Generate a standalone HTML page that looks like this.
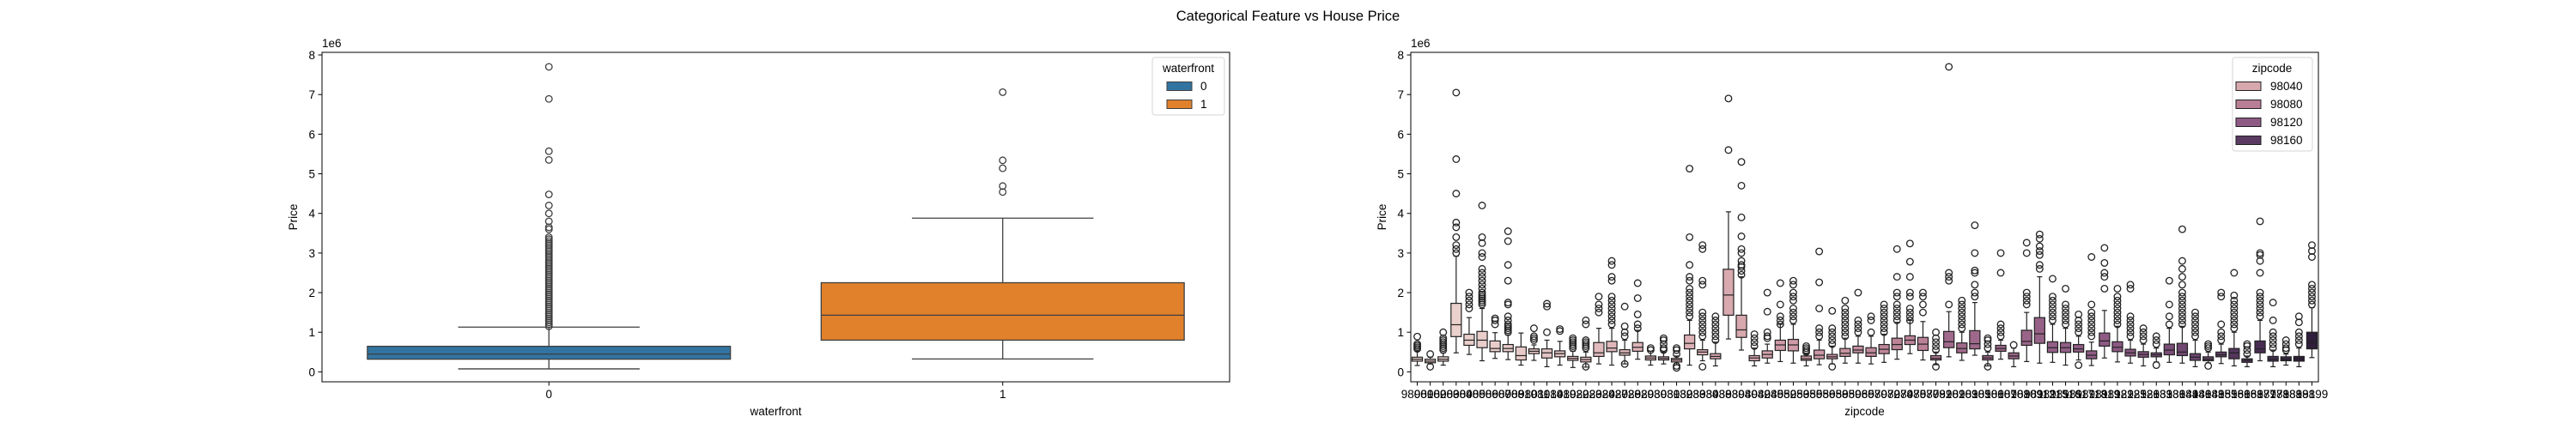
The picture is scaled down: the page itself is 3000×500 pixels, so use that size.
<!DOCTYPE html>
<html><head><meta charset="utf-8">
<style>
html,body{margin:0;padding:0;background:#fff;}
svg{display:block;font-family:"Liberation Sans","DejaVu Sans",sans-serif;}
</style></head>
<body>
<svg id="fig" width="3000" height="500" viewBox="0 0 3000 500" xmlns="http://www.w3.org/2000/svg">
<rect x="0" y="0" width="3000" height="500" fill="#fff"/>
<text x="1500" y="24" font-size="16.5" text-anchor="middle" fill="#000">Categorical Feature vs House Price</text>
<g id="left"></g>
<g id="right"></g>
</svg>
<script>
// ---- left chart data (waterfront), values in millions ----
const wfCats = ["0", "1"];
const wfQ1 = [0.32, 0.80];
const wfMed = [0.45, 1.43];
const wfQ3 = [0.645, 2.25];
const wfLo = [0.075, 0.325];
const wfHi = [1.13, 3.88];
const wfOut = [
  [1.15,1.2,1.25,1.3,1.35,1.4,1.45,1.5,1.55,1.6,1.65,1.7,1.75,1.8,1.85,1.9,1.95,2.0,2.05,2.1,2.15,2.2,2.25,2.3,2.35,2.4,2.45,2.5,2.55,2.6,2.65,2.7,2.75,2.8,2.85,2.9,2.95,3.0,3.05,3.1,3.15,3.2,3.25,3.3,3.35,3.4,3.6,3.65,3.8,4.0,4.2,4.48,5.35,5.57,6.89,7.7],
  [4.54,4.69,5.14,5.34,7.06]
];
const wfColors = ["#3274a1", "#e1812c"];
const yTicks = [0,1,2,3,4,5,6,7,8];

// ---- right chart data (zipcode), values in millions ----
const zips = [98001,98002,98003,98004,98005,98006,98007,98008,98010,98011,98014,98019,98022,98023,98024,98027,98028,98029,98030,98031,98032,98033,98034,98038,98039,98040,98042,98045,98052,98053,98055,98056,98058,98059,98065,98070,98072,98074,98075,98077,98092,98102,98103,98105,98106,98107,98108,98109,98112,98115,98116,98117,98118,98119,98122,98125,98126,98133,98136,98144,98146,98148,98155,98166,98168,98177,98178,98188,98198,98199];
const zQ1 = [.27,.23,.27,.89,.67,.61,.51,.51,.30,.46,.35,.38,.29,.25,.39,.51,.42,.52,.30,.30,.25,.58,.43,.33,1.43,.87,.28,.35,.54,.53,.29,.33,.33,.39,.48,.39,.46,.56,.69,.54,.30,.61,.48,.58,.30,.52,.33,.67,.72,.49,.49,.50,.33,.65,.51,.40,.37,.38,.43,.41,.29,.28,.38,.33,.24,.48,.27,.28,.27,.58];
const zMed = [.32,.27,.32,1.19,.80,.80,.59,.59,.41,.52,.48,.46,.34,.31,.48,.60,.48,.62,.35,.34,.30,.72,.50,.39,1.94,1.06,.35,.44,.68,.68,.33,.42,.38,.47,.55,.48,.57,.69,.80,.70,.34,.76,.59,.71,.35,.59,.40,.77,.96,.61,.61,.58,.42,.78,.62,.48,.44,.43,.55,.50,.37,.32,.43,.48,.29,.58,.32,.32,.33,.74];
const zQ3 = [.37,.32,.38,1.73,.95,1.02,.78,.69,.63,.58,.58,.53,.39,.37,.74,.77,.56,.74,.40,.38,.34,.93,.56,.46,2.59,1.43,.41,.53,.80,.82,.40,.55,.44,.59,.65,.61,.69,.85,.91,.87,.41,1.02,.73,1.04,.41,.67,.48,1.05,1.37,.76,.74,.69,.53,.98,.76,.57,.51,.48,.70,.72,.46,.38,.50,.59,.33,.78,.39,.38,.39,1.00];
const zLo = [.16,.20,.17,.48,.44,.28,.34,.31,.17,.29,.13,.17,.11,.12,.20,.17,.20,.32,.17,.20,.18,.17,.28,.15,.83,.55,.15,.22,.26,.22,.15,.18,.20,.22,.22,.20,.24,.32,.46,.30,.18,.38,.29,.42,.15,.32,.13,.26,.22,.24,.17,.30,.16,.35,.25,.22,.15,.25,.24,.22,.13,.23,.21,.15,.13,.28,.13,.17,.13,.36];
const zHi = [.52,.37,.48,2.92,1.37,1.60,.99,.93,.98,.68,.80,.77,.52,.50,1.10,1.10,.80,1.05,.52,.50,.40,1.30,.80,.75,4.04,2.40,.60,.70,1.20,1.20,.45,.80,.65,.85,.90,.90,.95,1.25,1.30,1.27,.50,1.52,1.00,1.75,.50,.80,.60,1.50,2.40,1.20,1.10,.90,.75,1.55,1.15,.80,.70,.60,1.10,1.15,.80,.50,.70,1.00,.40,1.30,.55,.45,.60,1.62];
const zOut = [
 [.58,.62,.66,.70,.89],
 [.45,.13],
 [.55,.6,.65,.7,.75,.8,.85,1.0],
 [3.0,3.1,3.2,3.4,3.65,3.77,4.5,5.37,7.05],
 [1.6,1.7,1.8,1.9,2.0],
 [1.7,1.75,1.8,1.85,1.9,1.95,2.0,2.1,2.2,2.3,2.4,2.5,2.6,2.9,3.0,3.25,3.4,4.2],
 [1.2,1.3,1.35],
 [1.0,1.05,1.1,1.15,1.2,1.3,1.4,1.7,1.75,2.3,2.7,3.3,3.55],
 [],
 [.8,.85,.9,1.1],
 [1.0,1.65,1.72],
 [1.03,1.08],
 [.6,.65,.7,.75,.8,.85],
 [.6,.65,.7,.75,.8,1.2,1.3,.13],
 [1.5,1.6,1.7,1.9],
 [1.2,1.3,1.4,1.5,1.6,1.7,1.8,1.9,2.3,2.4,2.7,2.8],
 [.9,1.0,1.15,1.65,.2],
 [1.1,1.2,1.45,1.86,2.24],
 [.55,.6],
 [.55,.6,.7,.8,.85],
 [.1,.15,.45,.55,.6],
 [1.4,1.5,1.6,1.7,1.8,1.9,2.0,2.1,2.3,2.4,2.7,3.4,5.13],
 [.9,1.0,1.1,1.2,1.3,1.4,1.5,2.2,2.3,3.1,3.2,.13],
 [.8,.9,1.0,1.1,1.2,1.3,1.4],
 [5.6,6.9],
 [2.45,2.55,2.65,2.7,2.8,3.0,3.1,3.42,3.9,4.7,5.3],
 [.65,.75,.85,.95],
 [.85,.9,1.0,1.52,2.0],
 [1.2,1.3,1.4,1.7,2.24],
 [1.3,1.4,1.5,1.6,1.8,1.9,2.0,2.2,2.3],
 [.5,.55,.6,.65],
 [.9,1.0,1.1,1.6,2.26,3.04],
 [.7,.8,.9,1.0,1.1,1.54,.13],
 [.9,1.0,1.1,1.2,1.3,1.4,1.5,1.6,1.8],
 [1.0,1.1,1.2,1.3,2.0],
 [1.0,1.3,1.4],
 [1.0,1.1,1.2,1.3,1.4,1.5,1.6,1.7],
 [1.3,1.4,1.5,1.6,1.7,1.9,2.0,2.4,3.1],
 [1.3,1.4,1.5,1.6,1.9,2.0,2.4,2.78,3.24],
 [1.5,1.7,1.9,2.0],
 [.55,.65,.75,.85,1.0,.13],
 [1.7,2.3,2.4,2.5,7.7],
 [1.1,1.2,1.3,1.4,1.5,1.6,1.7,1.8],
 [1.9,2.0,2.2,2.5,2.56,3.0,3.7],
 [.6,.7,.8,.85,.13],
 [.9,1.0,1.1,1.2,2.5,3.0],
 [.68],
 [1.7,1.8,1.9,2.0,3.0,3.26],
 [2.6,2.7,2.95,3.05,3.17,3.36,3.47],
 [1.3,1.4,1.5,1.6,1.7,1.8,1.9,2.35],
 [1.2,1.3,1.4,1.5,1.6,1.7,2.1],
 [1.0,1.1,1.2,1.3,1.45,.17],
 [.9,1.0,1.1,1.2,1.3,1.4,1.5,1.7,2.9],
 [2.1,2.4,2.5,2.75,3.13],
 [1.2,1.3,1.4,1.5,1.6,1.7,1.8,1.9,2.1],
 [.9,1.0,1.1,1.2,1.3,1.4,2.1,2.2],
 [.8,.9,1.0,1.1],
 [.7,.8,.9,.17],
 [1.2,1.4,1.7,2.3],
 [1.2,1.3,1.4,1.5,1.6,1.7,1.8,1.9,2.0,2.2,2.4,2.6,2.8,3.6],
 [.9,1.0,1.1,1.2,1.3,1.4,1.5],
 [.6,.65,.7,.15],
 [.8,.9,1.0,1.2,1.9,2.0],
 [1.1,1.2,1.3,1.4,1.5,1.6,1.7,1.8,1.93,2.5],
 [.45,.55,.65,.7],
 [1.4,1.5,1.6,1.7,1.8,1.9,2.0,2.5,2.8,2.95,3.0,3.8],
 [.6,.7,.8,.9,1.0,1.3,1.75],
 [.55,.6,.7,.8],
 [.7,.8,.9,1.0,1.25,1.4],
 [1.7,1.8,1.9,2.0,2.1,2.2,2.9,3.05,3.2]
];
const legendZips = [98040, 98080, 98120, 98160];

const NS = "http://www.w3.org/2000/svg";
function mk(parent, tag, attrs){
  const e = document.createElementNS(NS, tag);
  for (const k in attrs) e.setAttribute(k, attrs[k]);
  parent.appendChild(e);
  return e;
}
const TOP = 61, BOT = 445;
function yScale(v){ return 433.4 - v * 46.17; }

function axesFrame(g, x0, x1, name){
  const r = mk(g, "rect", {x:x0, y:TOP, width:x1-x0, height:BOT-TOP, fill:"none", stroke:"#000", "stroke-width":1});
  
  
  yTicks.forEach(t => {
    const y = yScale(t);
    const tk = mk(g, "line", {x1:x0-4.5, x2:x0, y1:y, y2:y, stroke:"#000", "stroke-width":1});
    
    
    const lb = mk(g, "text", {x:x0-8, y:y+5, "font-size":13.5, "text-anchor":"end", fill:"#000"});
    lb.textContent = String(t);
    
    
  });
  const ex = mk(g, "text", {x:x0, y:TOP-6, "font-size":13.5, fill:"#000"});
  ex.textContent = "1e6";
  
  
  const yl = mk(g, "text", {x:0, y:0, "font-size":13.5, "text-anchor":"middle", fill:"#000", transform:"translate(" + (x0-29) + "," + ((TOP+BOT)/2) + ") rotate(-90)"});
  yl.textContent = "Price";
  
  
}

function drawBox(g, cx, w, q1, med, q3, lo, hi, outs, fill, lc, lw, name){
  const bg = mk(g, "g", {});
  
  
  mk(bg, "line", {x1:cx, x2:cx, y1:yScale(q3), y2:yScale(hi), stroke:lc, "stroke-width":lw});
  mk(bg, "line", {x1:cx, x2:cx, y1:yScale(q1), y2:yScale(lo), stroke:lc, "stroke-width":lw});
  mk(bg, "line", {x1:cx-w/4, x2:cx+w/4, y1:yScale(hi), y2:yScale(hi), stroke:lc, "stroke-width":lw});
  mk(bg, "line", {x1:cx-w/4, x2:cx+w/4, y1:yScale(lo), y2:yScale(lo), stroke:lc, "stroke-width":lw});
  mk(bg, "rect", {x:cx-w/2, y:yScale(q3), width:w, height:yScale(q1)-yScale(q3), fill:fill, stroke:lc, "stroke-width":lw});
  mk(bg, "line", {x1:cx-w/2, x2:cx+w/2, y1:yScale(med), y2:yScale(med), stroke:lc, "stroke-width":lw});
  outs.forEach(v => {
    const c = mk(bg, "circle", {cx:cx, cy:yScale(v), r:3.8, fill:"none", stroke:lc, "stroke-width":1.3});
    
    
  });
}

// ---- left chart ----
(function(){
  const g = document.getElementById("left");
  const x0 = 375, x1 = 1432;
  const band = (x1-x0)/wfCats.length;
  axesFrame(g, x0, x1, "waterfront-axes");
  wfCats.forEach((c,i) => {
    const cx = x0 + (i+0.5)*band;
    drawBox(g, cx, band*0.8, wfQ1[i], wfMed[i], wfQ3[i], wfLo[i], wfHi[i], wfOut[i], wfColors[i], "#3f3f3f", 1.3, "box-waterfront-" + c);
    const tk = mk(g, "line", {x1:cx, x2:cx, y1:BOT, y2:BOT+4.5, stroke:"#000"});
    
    
    const lb = mk(g, "text", {x:cx, y:BOT+19, "font-size":13.5, "text-anchor":"middle", fill:"#000"});
    lb.textContent = c;
    
    
  });
  const xl = mk(g, "text", {x:(x0+x1)/2, y:484, "font-size":13.5, "text-anchor":"middle", fill:"#000"});
  xl.textContent = "waterfront";
  
  
  const lg = mk(g, "g", {});
  
  
  mk(lg, "rect", {x:1342, y:67, width:84, height:67, rx:3, fill:"#fff", stroke:"#d6d6d6", "stroke-width":1});
  const t = mk(lg, "text", {x:1384, y:84, "font-size":13.5, "text-anchor":"middle", fill:"#000"});
  t.textContent = "waterfront";
  wfCats.forEach((c,i) => {
    const ey = 100 + i*21;
    const e = mk(lg, "g", {});
    
    
    mk(e, "rect", {x:1359, y:ey-4.5, width:29, height:10, fill:wfColors[i], stroke:"#3f3f3f", "stroke-width":1});
    const tt = mk(e, "text", {x:1398, y:ey+5, "font-size":13.5, fill:"#000"});
    tt.textContent = c;
  });
})();

// ---- right chart ----
const stops = [[98001,[236,212,208]],[98040,[216,168,175]],[98080,[184,126,149]],[98120,[142,90,132]],[98160,[90,58,99]],[98199,[46,29,59]]];
function zipColor(z){
  for (let k=0;k<stops.length-1;k++){
    const a=stops[k], b=stops[k+1];
    if (z<=b[0]){
      const t=(z-a[0])/(b[0]-a[0]);
      const c=a[1].map((v,j)=>Math.round(v+(b[1][j]-v)*t));
      return "rgb("+c.join(",")+")";
    }
  }
  return "rgb(46,29,59)";
}
(function(){
  const g = document.getElementById("right");
  const x0 = 1643, x1 = 2700;
  const band = (x1-x0)/zips.length;
  axesFrame(g, x0, x1, "zipcode-axes");
  zips.forEach((z,i) => {
    const cx = x0 + (i+0.5)*band;
    drawBox(g, cx, band*0.8, zQ1[i], zMed[i], zQ3[i], zLo[i], zHi[i], zOut[i], zipColor(z), "#222", 1.2, "box-zip-" + z);
    const tk = mk(g, "line", {x1:cx, x2:cx, y1:BOT, y2:BOT+4.5, stroke:"#000"});
    
    
    const lb = mk(g, "text", {x:cx, y:BOT+19, "font-size":13.5, "text-anchor":"middle", fill:"#000"});
    lb.textContent = String(z);
    
    
  });
  const xl = mk(g, "text", {x:(x0+x1)/2, y:484, "font-size":13.5, "text-anchor":"middle", fill:"#000"});
  xl.textContent = "zipcode";
  
  
  const lg = mk(g, "g", {});
  
  
  mk(lg, "rect", {x:2600, y:67, width:93, height:109, rx:3, fill:"#fff", stroke:"#d6d6d6", "stroke-width":1});
  const t = mk(lg, "text", {x:2646, y:84, "font-size":13.5, "text-anchor":"middle", fill:"#000"});
  t.textContent = "zipcode";
  legendZips.forEach((z,i) => {
    const ey = 100 + i*21;
    const e = mk(lg, "g", {});
    
    
    mk(e, "rect", {x:2604, y:ey-4.5, width:29, height:10, fill:zipColor(z), stroke:"#222", "stroke-width":1});
    const tt = mk(e, "text", {x:2644, y:ey+5, "font-size":13.5, fill:"#000"});
    tt.textContent = String(z);
  });
})();
</script>
</body></html>
